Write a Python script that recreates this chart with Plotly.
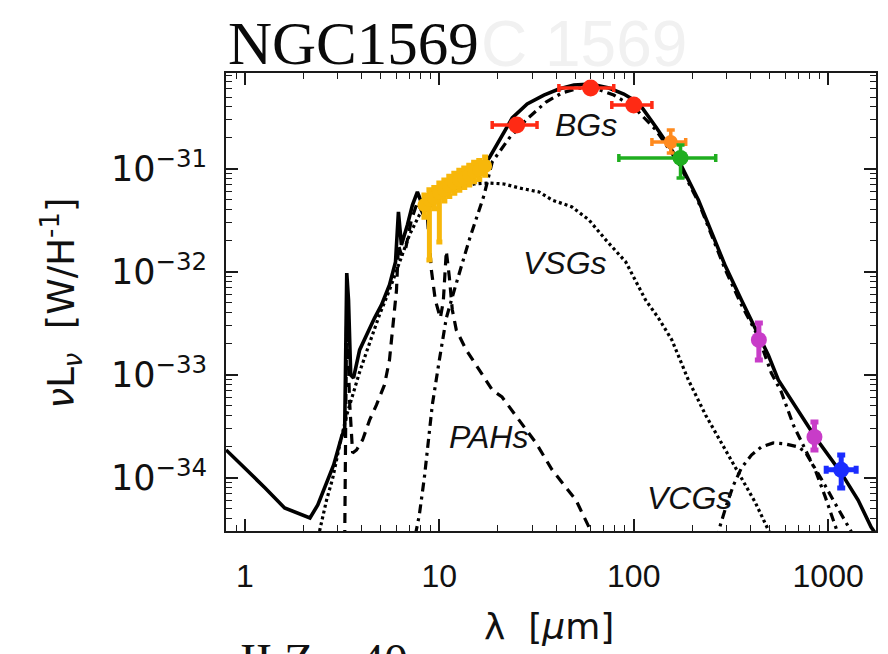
import plotly.graph_objects as go

# ---------------- model curves (wavelength [micron], nuLnu [W/H]) ----------------
total_wl = [0.80, 1.0, 1.27, 1.60, 1.92, 2.16, 2.37, 2.60, 2.86, 3.14, 3.26, 3.34, 3.41, 3.50, 3.62,
            3.89, 4.22, 4.64, 5.04, 5.54, 5.95, 6.16, 6.38, 6.85, 7.27, 7.71, 8.18, 8.68, 9.42,
            10.24, 10.86, 11.52, 12.67, 14.25, 16.04, 18.05, 20.3, 23.7, 28.3, 34.5, 41.2, 49.2,
            60.2, 74.5, 88.9, 106, 130, 170, 215, 296, 358, 423, 492, 554, 701, 857, 1167, 1425,
            1662, 1848]
total_val = [1.87e-34, 1.25e-34, 8.0e-35, 5.12e-35, 4.47e-35, 4.09e-35, 5.47e-35, 8.55e-35,
             1.34e-34, 2.50e-34, 3.05e-34, 9.77e-33, 5.35e-33, 1.0e-33, 9.35e-34, 1.75e-33,
             2.44e-33, 3.57e-33, 4.79e-33, 7.48e-33, 1.25e-32, 3.83e-32, 1.83e-32, 2.86e-32,
             4.47e-32, 5.98e-32, 4.47e-32, 4.0e-32, 5.0e-32, 5.6e-32, 7.48e-32, 6.55e-32, 7.0e-32,
             8.18e-32, 9.78e-32, 1.28e-31, 1.91e-31, 3.13e-31, 4.28e-31, 5.22e-31, 5.98e-31,
             6.55e-31, 6.68e-31, 6.11e-31, 5.34e-31, 4.38e-31, 2.56e-31, 1.22e-31, 5.0e-32,
             1.14e-32, 5.35e-33, 2.74e-33, 1.56e-33, 8.93e-34, 4.57e-34, 2.50e-34, 1.12e-34,
             6.11e-35, 3.34e-35, 2.50e-35]

pah_wl = [3.26, 3.34, 3.45, 3.58, 3.75, 4.03, 4.38, 4.75, 5.22, 5.54, 5.81, 6.02, 6.16, 6.38,
          6.69, 7.18, 7.71, 8.28, 8.68, 9.10, 9.53, 10.12, 10.48, 10.86, 11.25, 11.66, 12.22,
          13.75, 16.04, 18.7, 21.0, 25.7, 31.4, 38.0, 43.8, 50.4, 58.8, 62.4]
pah_val = [2.50e-35, 5.35e-33, 5.72e-34, 1.75e-34, 1.87e-34, 2.34e-34, 3.66e-34, 5.12e-34,
           8.0e-34, 1.40e-33, 3.42e-33, 6.68e-33, 1.83e-32, 1.46e-32, 1.64e-32, 3.20e-32,
           4.79e-32, 3.57e-32, 3.34e-32, 1.045e-32, 5.35e-33, 3.57e-33, 5.2e-33, 1.6e-32,
           9.0e-33, 4.28e-33, 2.74e-33, 1.75e-33, 1.12e-33, 7.15e-34, 6.11e-34, 3.66e-34,
           2.19e-34, 1.20e-34, 8.55e-35, 6.11e-35, 3.34e-35, 2.50e-35]

vsg_wl = [2.42, 2.63, 2.83, 3.07, 3.34, 3.58, 3.89, 4.38, 4.92, 5.54, 6.23, 7.02, 7.89, 8.89,
          10.61, 12.67, 15.1, 18.05, 21.5, 25.7, 32.6, 38.0, 48.1, 58.8, 71.8, 91.0, 115, 134,
          157, 191, 234, 296, 358, 423, 492, 522]
vsg_val = [3.05e-35, 6.11e-35, 1.0e-34, 2.09e-34, 4.09e-34, 6.40e-34, 1.07e-33, 2.05e-33,
           3.83e-33, 6.68e-33, 1.25e-32, 2.29e-32, 3.57e-32, 4.79e-32, 5.98e-32, 6.68e-32,
           7.15e-32, 7.31e-32, 7.15e-32, 6.55e-32, 5.98e-32, 5.0e-32, 4.28e-32, 3.20e-32,
           2.05e-32, 1.25e-32, 5.35e-33, 3.57e-33, 2.19e-33, 8.93e-34, 4.09e-34, 1.87e-34,
           1.02e-34, 5.72e-35, 3.13e-35, 2.50e-35]

bg_wl = [7.53, 7.89, 8.38, 8.89, 9.20, 10.0, 10.86, 11.94, 13.13, 14.25, 17.0, 18.7, 22.9, 27.9,
         35.4, 42.7, 52.2, 62.4, 78.9, 100, 130, 170, 215, 296, 358, 438, 510, 574, 662, 762,
         857, 966, 1087, 1153]
bg_val = [2.80e-35, 4.38e-35, 1.02e-34, 2.92e-34, 5.12e-34, 1.40e-33, 3.57e-33, 6.68e-33,
          1.25e-32, 2.05e-32, 5.6e-32, 1.17e-31, 2.0e-31, 2.99e-31, 4.47e-31, 5.47e-31, 6.11e-31,
          6.11e-31, 5.22e-31, 4.0e-31, 2.39e-31, 1.14e-31, 4.79e-32, 1.045e-32, 4.79e-33,
          2.34e-33, 1.045e-33, 6.84e-34, 3.27e-34, 1.87e-34, 1.20e-34, 6.55e-35, 3.34e-35,
          2.50e-35]

vcg_wl = [267, 279, 300, 326, 358, 403, 453, 522, 602, 701, 762, 837, 942, 1061, 1194, 1343]
vcg_val = [2.5e-35, 3.5e-35, 5.47e-35, 8.55e-35, 1.25e-34, 1.67e-34, 2.0e-34, 2.19e-34, 2.14e-34,
           2.0e-34, 1.79e-34, 1.34e-34, 9.14e-35, 6.11e-35, 4.09e-35, 2.80e-35]

# ---------------- observations ----------------
irs_wl = [8.38, 8.89, 9.42, 10.0, 10.61, 11.25, 11.94, 12.67, 13.43, 14.25, 15.1, 16.04, 17.2]
irs_val = [4.47e-32, 5.0e-32, 5.23e-32, 5.85e-32, 6.25e-32, 6.84e-32, 7.31e-32, 7.82e-32,
           8.18e-32, 8.74e-32, 9.35e-32, 9.78e-32, 1.07e-31]
irs_lo = [3.4e-32, 1.31e-32, 4.1e-32, 1.95e-32, 4.9e-32, 5.4e-32, 5.8e-32, 6.2e-32, 6.6e-32,
          7.0e-32, 7.5e-32, 7.9e-32, 8.7e-32]
irs_hi = [5.6e-32, 6.3e-32, 6.6e-32, 7.3e-32, 7.8e-32, 8.5e-32, 9.1e-32, 9.7e-32, 1.02e-31,
          1.09e-31, 1.16e-31, 1.21e-31, 1.31e-31]

iras_wl = [25, 60, 100]
iras_val = [2.67e-31, 6.11e-31, 4.18e-31]
iras_wl_lo = [18.7, 41.2, 77.1]
iras_wl_hi = [31.8, 78.9, 124]
iras_lo = [2.4e-31, 5.5e-31, 3.8e-31]
iras_hi = [2.95e-31, 6.7e-31, 4.6e-31]

mips_wl = [155]
mips_val = [1.83e-31]
mips_wl_lo = [124]
mips_wl_hi = [185]
mips_lo = [1.43e-31]
mips_hi = [2.39e-31]

green_wl = [174]
green_val = [1.28e-31]
green_wl_lo = [83.8]
green_wl_hi = [264]
green_lo = [8.18e-32]
green_hi = [1.71e-31]

submm_wl = [440, 850]
submm_val = [2.19e-33, 2.50e-34]
submm_wl_lo = [425, 825]
submm_wl_hi = [455, 875]
submm_lo = [1.40e-33, 1.87e-34]
submm_hi = [3.20e-33, 3.50e-34]

mm_wl = [1167]
mm_val = [1.20e-34]
mm_wl_lo = [977]
mm_wl_hi = [1393]
mm_lo = [8.0e-35]
mm_hi = [1.67e-34]

x_ticks = [1, 10, 100, 1000]
x_ticktext = ["1", "10", "100", "1000"]
y_ticks = [1e-34, 1e-33, 1e-32, 1e-31]
y_ticktext = ["10<sup>\u221234</sup>", "10<sup>\u221233</sup>", "10<sup>\u221232</sup>", "10<sup>\u221231</sup>"]

# ---------------------------------------------------------------------------
fig = go.Figure()

def curve(x, y, dash, width=3.2):
    fig.add_trace(go.Scatter(x=x, y=y, mode="lines",
                             line=dict(color="black", width=width, dash=dash),
                             hoverinfo="skip", showlegend=False))

curve(vcg_wl, vcg_val, "9px,5px,3px,5px")
curve(bg_wl, bg_val, "9px,5px,3px,5px")
curve(vsg_wl, vsg_val, "3px,3px")
curve(pah_wl, pah_val, "10px,7px")
curve(total_wl, total_val, "solid", width=3.6)

def pts(x, y, xlo, xhi, ylo, yhi, color, size, thick=3, cap=4):
    ex = None
    if xlo is not None:
        ex = dict(type="data", symmetric=False,
                  array=[h - v for h, v in zip(xhi, x)],
                  arrayminus=[v - l for l, v in zip(xlo, x)],
                  color=color, thickness=thick, width=cap)
    ey = dict(type="data", symmetric=False,
              array=[h - v for h, v in zip(yhi, y)],
              arrayminus=[v - l for l, v in zip(ylo, y)],
              color=color, thickness=thick, width=cap)
    fig.add_trace(go.Scatter(x=x, y=y, mode="markers",
                             marker=dict(color=color, size=size, line=dict(width=0)),
                             error_x=ex, error_y=ey, hoverinfo="skip", showlegend=False))

pts(irs_wl, irs_val, None, None, irs_lo, irs_hi, "#f7b70a", 14, thick=5, cap=3)
pts(iras_wl, iras_val, iras_wl_lo, iras_wl_hi, iras_lo, iras_hi, "#ff2a14", 17, thick=3.5)
pts(mips_wl, mips_val, mips_wl_lo, mips_wl_hi, mips_lo, mips_hi, "#ff8a1e", 14, thick=3.5)
pts(green_wl, green_val, green_wl_lo, green_wl_hi, green_lo, green_hi, "#1fae1f", 16, thick=3.5)
pts(submm_wl, submm_val, submm_wl_lo, submm_wl_hi, submm_lo, submm_hi, "#c83cc8", 16, thick=5)
pts(mm_wl, mm_val, mm_wl_lo, mm_wl_hi, mm_lo, mm_hi, "#1a2cff", 16, thick=5)

# ---------------------------------------------------------------------------
AX = "#1a1a1a"

common = dict(type="log", ticks="inside", ticklen=12, tickwidth=1.5, tickcolor=AX,
              showline=True, linecolor=AX, linewidth=1.6, mirror="ticks", showgrid=False,
              zeroline=False,
              minor=dict(ticks="inside", ticklen=6, tickwidth=1.2, tickcolor=AX,
                         dtick="D1", showgrid=False))

fig.update_xaxes(range=[-0.0974, 3.246], tickmode="array", tickvals=x_ticks,
                 ticktext=x_ticktext, ticklabelstandoff=16,
                 tickfont=dict(family="Liberation Sans, Arial", size=32, color="#111"), **common)
fig.update_yaxes(range=[-34.515, -30.068], tickmode="array", tickvals=y_ticks,
                 ticktext=y_ticktext, ticklabelstandoff=10,
                 tickfont=dict(family="DejaVu Sans, Liberation Sans", size=35, color="#111"),
                 **common)

L, R, T, B = 226, 878, 73, 531
def px(x):
    return (x - L) / (R - L)
def py(y):
    return (B - y) / (B - T)

ann = []
def text(s, x, y, size, family="Liberation Sans, Arial", color="#111", xanchor="center",
         yanchor="middle", angle=0):
    ann.append(dict(text=s, x=px(x), y=py(y), xref="paper", yref="paper", showarrow=False,
                    xanchor=xanchor, yanchor=yanchor, textangle=angle,
                    font=dict(family=family, size=size, color=color)))

text("C 1569", 480, 44, 64, color="#f1f1f1", xanchor="left")
text("NGC1569", 226, 44, 61, family="Liberation Serif, Times New Roman", color="#0a0a0a",
     xanchor="left")
text("II Zw 40", 238, 632, 48, family="Liberation Serif, Times New Roman", xanchor="left",
     yanchor="top")
text("<i>BGs</i>", 587, 125, 32)
text("<i>VSGs</i>", 566, 263, 32)
text("<i>PAHs</i>", 489, 437, 32)
text("<i>VCGs</i>", 691, 498, 32)
text("<i>\u03bd</i>L<sub><i>\u03bd</i></sub>  [W/H<sup>-1</sup>]", 60, 303, 37,
     family="DejaVu Sans, Liberation Sans", angle=-90)
text("\u03bb  [<i>\u03bc</i>m]", 550, 626, 36, family="DejaVu Sans, Liberation Sans")

fig.update_layout(width=888, height=654, margin=dict(l=L, r=888 - R, t=T, b=654 - B),
                  paper_bgcolor="white", plot_bgcolor="white", showlegend=False,
                  annotations=ann)

fig.write_html("out.html")
